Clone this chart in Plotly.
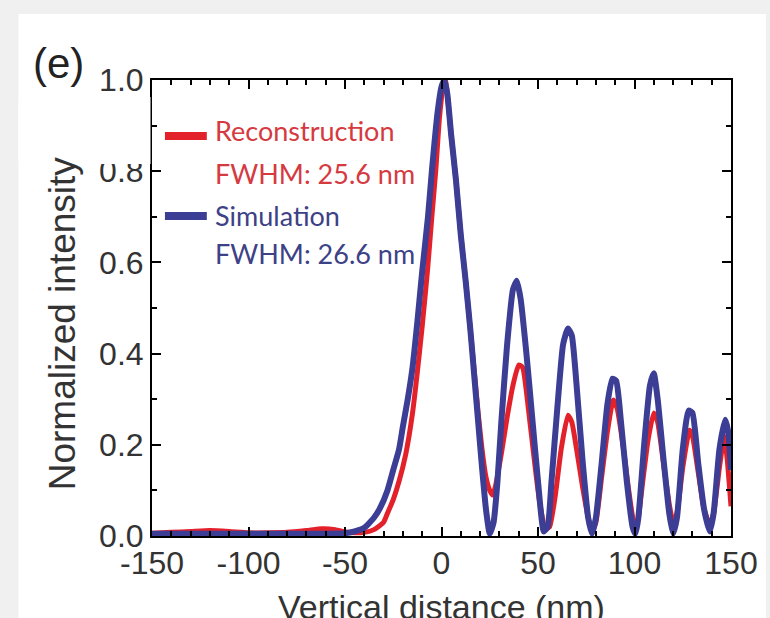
import plotly.graph_objects as go

# ---------------- data ----------------
sim_x = [-150, -120, -100, -80, -60, -50, -45, -40, -35, -32, -28, -25, -22, -20, -17.5, -15,
         -12.5, -10, -7, -5, -2, 0, 1.5, 3, 5, 7.5, 10, 12.5, 15, 17, 19, 21, 23, 25, 27, 29,
         31, 34, 37, 39, 41, 44, 47, 50, 53, 55, 57, 60, 63, 65.5, 67.5, 70, 73, 76, 78, 80,
         83, 86, 88.5, 90.5, 93, 96, 99, 100.5, 102, 105, 108, 110, 112, 115, 118, 120, 122,
         125, 128, 130, 133, 136, 139, 141, 144, 147, 148.5, 150]
sim_y = [0.005, 0.005, 0.005, 0.005, 0.005, 0.006, 0.01, 0.018, 0.04, 0.06, 0.10, 0.145, 0.19, 0.24, 0.30, 0.37,
         0.47, 0.58, 0.70, 0.80, 0.93, 0.985, 1.0, 0.97, 0.88, 0.78, 0.66, 0.56, 0.45, 0.35, 0.25, 0.15, 0.06, 0.005, 0.03, 0.12,
         0.25, 0.42, 0.54, 0.56, 0.52, 0.40, 0.26, 0.12, 0.01, 0.02, 0.12, 0.28, 0.42, 0.455, 0.44, 0.33, 0.17, 0.04, 0.005, 0.04,
         0.16, 0.29, 0.345, 0.34, 0.25, 0.12, 0.02, 0.005, 0.04, 0.20, 0.33, 0.357, 0.30, 0.17, 0.05, 0.005, 0.04,
         0.19, 0.275, 0.27, 0.16, 0.06, 0.01, 0.05, 0.19, 0.255, 0.23, 0.145]

rec_x = [-150, -140, -130, -120, -110, -100, -90, -80, -70, -62, -55, -50, -45, -40, -35, -30, -28, -25,
         -22, -18.5, -15, -12.5, -10, -7.3, -5, -3, -1, 1, 2, 3, 5, 7.5, 10, 12.5, 15, 17, 19, 21,
         23, 25, 26.5, 28, 31, 34, 37, 40, 42, 45, 48, 51, 54, 56, 59, 62, 65.5, 67.5, 70, 73, 76,
         78, 80, 83, 86, 89, 91, 94, 97, 100, 101.5, 104, 107, 110, 112, 115, 118, 120, 122, 125,
         128.5, 130, 133, 136, 139, 141, 144, 146.5, 148, 150]
rec_y = [0.006, 0.008, 0.01, 0.012, 0.01, 0.007, 0.007, 0.008, 0.012, 0.016, 0.014, 0.009, 0.007, 0.008, 0.014, 0.03, 0.05, 0.08,
         0.12, 0.18, 0.27, 0.36, 0.46, 0.58, 0.70, 0.80, 0.92, 0.99, 1.0, 0.97, 0.88, 0.78, 0.66, 0.56, 0.45, 0.36, 0.27, 0.19,
         0.13, 0.10, 0.09, 0.11, 0.18, 0.26, 0.33, 0.375, 0.37, 0.28, 0.17, 0.07, 0.015, 0.02, 0.09, 0.19, 0.265, 0.25, 0.19, 0.11, 0.04,
         0.01, 0.03, 0.13, 0.23, 0.298, 0.28, 0.20, 0.10, 0.025, 0.03, 0.11, 0.21, 0.27, 0.25, 0.16, 0.07, 0.03, 0.05, 0.15,
         0.232, 0.22, 0.14, 0.06, 0.025, 0.05, 0.15, 0.218, 0.17, 0.065]

x_tick_vals = [-150, -100, -50, 0, 50, 100, 150]
x_tick_text = ["-150", "-100", "-50", "0", "50", "100", "150"]
y_tick_vals = [0.0, 0.2, 0.4, 0.6, 0.8, 1.0]
y_tick_text = ["0.0", "0.2", "0.4", "0.6", "0.8", "1.0"]

legend_labels = ["Reconstruction", "FWHM: 25.6 nm", "Simulation", "FWHM: 26.6 nm"]

RED = "#e3212b"
BLUE = "#3c3d94"
RED_TXT = "#d53a41"
BLUE_TXT = "#3d4186"

# ---------------- layout helpers (pixels -> paper) ----------------
W, H = 770, 618
L, R, T, B = 152, 733, 80, 536


def px(xp):
    return (xp - L) / (R - L)


def py(yp):
    return (B - yp) / (B - T)


fig = go.Figure()
fig.add_trace(go.Scatter(x=rec_x, y=rec_y, mode="lines", name="Reconstruction",
                         line=dict(color=RED, width=5, shape="spline", smoothing=0.5)))
fig.add_trace(go.Scatter(x=sim_x, y=sim_y, mode="lines", name="Simulation",
                         line=dict(color=BLUE, width=6, shape="spline", smoothing=0.5)))

tickfont = dict(family="Liberation Sans, Arial, sans-serif", size=32, color="#333333")

fig.update_xaxes(range=[-150, 150], tickvals=x_tick_vals, ticktext=x_tick_text,
                 ticks="inside", ticklen=9, tickwidth=2, tickcolor="black",
                 showline=True, linecolor="black", linewidth=2, mirror="ticks",
                 showgrid=False, zeroline=False, tickfont=tickfont, ticklabelstandoff=-2,
                 minor=dict(dtick=10, ticks="inside", ticklen=5, tickwidth=1.5, tickcolor="black"))
fig.update_yaxes(range=[0, 1], tickvals=y_tick_vals, ticktext=y_tick_text,
                 ticks="inside", ticklen=9, tickwidth=2, tickcolor="black",
                 showline=True, linecolor="black", linewidth=2, mirror="ticks",
                 showgrid=False, zeroline=False, tickfont=tickfont, ticklabelstandoff=0,
                 minor=dict(dtick=0.1, ticks="inside", ticklen=5, tickwidth=1.5, tickcolor="black"))

shapes = [
    # white panel on grey page
    dict(type="rect", xref="paper", yref="paper", x0=px(18), x1=px(768), y0=py(14), y1=py(640),
         fillcolor="white", line=dict(width=0), layer="below"),
    # white patch covering the top of the 0.8 label (scan artefact in the reference)
    dict(type="rect", xref="paper", yref="paper", x0=px(18), x1=px(150.5), y0=py(97), y1=py(164),
         fillcolor="white", line=dict(width=0), layer="above"),
    # legend swatches
    dict(type="line", xref="paper", yref="paper", x0=px(165), x1=px(207), y0=py(136), y1=py(136),
         line=dict(color=RED, width=8)),
    dict(type="line", xref="paper", yref="paper", x0=px(165), x1=px(207), y0=py(216), y1=py(216),
         line=dict(color=BLUE, width=8)),
]

legfont = "Lato, Noto Sans, sans-serif"
annotations = [
    dict(text=legend_labels[0], x=px(213), y=py(131), xref="paper", yref="paper", xanchor="left",
         yanchor="middle", showarrow=False, font=dict(family=legfont, size=27, color=RED_TXT)),
    dict(text=legend_labels[1], x=px(213), y=py(173), xref="paper", yref="paper", xanchor="left",
         yanchor="middle", showarrow=False, font=dict(family=legfont, size=27, color=RED_TXT)),
    dict(text=legend_labels[2], x=px(213), y=py(215), xref="paper", yref="paper", xanchor="left",
         yanchor="middle", showarrow=False, font=dict(family=legfont, size=27, color=BLUE_TXT)),
    dict(text=legend_labels[3], x=px(213), y=py(253), xref="paper", yref="paper", xanchor="left",
         yanchor="middle", showarrow=False, font=dict(family=legfont, size=27, color=BLUE_TXT)),
    dict(text="(e)", x=px(58), y=py(64), xref="paper", yref="paper", xanchor="center",
         yanchor="middle", showarrow=False,
         font=dict(family="Liberation Sans, Arial, sans-serif", size=42, color="#222222")),
    dict(text="Normalized intensity", x=px(62), y=py(323), xref="paper", yref="paper",
         xanchor="center", yanchor="middle", textangle=-90, showarrow=False,
         font=dict(family="Liberation Sans, Arial, sans-serif", size=37, color="#333333")),
    dict(text="Vertical distance (nm)", x=px(443), y=py(607), xref="paper", yref="paper",
         xanchor="center", yanchor="middle", showarrow=False,
         font=dict(family="Liberation Sans, Arial, sans-serif", size=34, color="#333333")),
]

fig.update_layout(width=W, height=H, margin=dict(l=L, r=W - R, t=T, b=H - B),
                  paper_bgcolor="#f0f0f0", plot_bgcolor="white", showlegend=False,
                  shapes=shapes, annotations=annotations)

fig.write_html("out.html")
